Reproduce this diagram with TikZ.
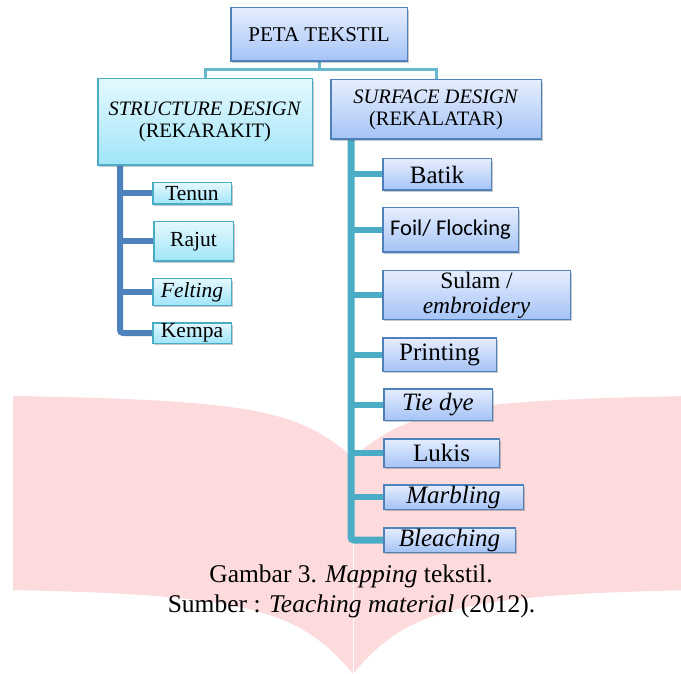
\documentclass[tikz,border=0pt]{standalone}
\usepackage{fontspec}
\setmainfont{LiberationSerif}[Extension=.ttf, UprightFont=*-Regular, ItalicFont=*-Italic, BoldFont=*-Bold, BoldItalicFont=*-BoldItalic]
\newfontfamily\carl{Carlito}
\usetikzlibrary{shadows,backgrounds}
\definecolor{pinkbg}{HTML}{FDDADB}
\definecolor{bborder}{HTML}{4F81BD}
\definecolor{tborder}{HTML}{4BACC6}
\definecolor{btop}{HTML}{E6EEFE}
\definecolor{bbot}{HTML}{A5C3F6}
\definecolor{ctop}{HTML}{E4F8FE}
\definecolor{cbot}{HTML}{A0E5F8}
\tikzset{
  bluebox/.style={draw=bborder, line width=1.5pt, top color=btop, bottom color=bbot,
    inner sep=0pt, align=center,
    drop shadow={shadow xshift=1.5pt, shadow yshift=-1.8pt, opacity=0.3, fill=black!70}},
  cyanbox/.style={bluebox, draw=tborder, top color=ctop, bottom color=cbot},
  topconn/.style={draw=tborder!85, line width=3pt},
  ltree/.style={draw=bborder, line width=6pt},
  rtree/.style={draw=tborder, line width=7pt},
  fa/.style={font=\fontsize{21}{22}\selectfont},
  fb/.style={font=\fontsize{20.5}{22}\selectfont},
  fl/.style={font=\fontsize{21.5}{22}\selectfont},
  fr/.style={font=\fontsize{25}{25}\selectfont},
  fcap/.style={font=\fontsize{25.5}{26}\selectfont}
}
\begin{document}
\begin{tikzpicture}[x=1pt,y=-1pt]
\useasboundingbox (0,0) rectangle (681,674);
% top
\node[bluebox, fa, minimum width=176.5pt, minimum height=53.5pt] (root) at (319,34.5) {PETA TEKSTIL};
\node[cyanbox, fb, minimum width=214.5pt, minimum height=86.5pt] (sd) at (205,122) {\textit{STRUCTURE DESIGN}\\(REKARAKIT)};
\node[bluebox, fb, minimum width=210.5pt, minimum height=59.5pt] (sf) at (436,109.5) {\textit{SURFACE DESIGN}\\(REKALATAR)};
% left children
\node[cyanbox, fl, minimum width=78.5pt, minimum height=21.5pt] (tenun) at (192,193.5) {Tenun};
\node[cyanbox, fl, minimum width=79.5pt, minimum height=39.5pt] (rajut) at (193.5,241.5) {Rajut};
\node[cyanbox, fl, minimum width=78.5pt, minimum height=26.5pt] (felting) at (192,292) {\textit{Felting}};
\node[cyanbox, fl, minimum width=78.5pt, minimum height=20.5pt] (kempa) at (192,333) {Kempa};
% right children
\node[bluebox, fr, minimum width=108.5pt, minimum height=31.5pt] (batik) at (437,174.5) {Batik};
\node[bluebox, font=\carl\fontsize{22.5}{23}\selectfont, minimum width=135.5pt, minimum height=44.5pt] (foil) at (450.5,230) {Foil/ Flocking};
\node[bluebox, font=\fontsize{23.5}{25}\selectfont, minimum width=187.5pt, minimum height=48.5pt] (sulam) at (476.5,295) {Sulam /\\\textit{embroidery}};
\node[bluebox, fr, minimum width=113.5pt, minimum height=33.5pt] (printing) at (439.5,354.5) {Printing};
\node[bluebox, fr, minimum width=108.5pt, minimum height=31.5pt] (tiedye) at (438,404.5) {\textit{Tie dye}};
\node[bluebox, fr, minimum width=115.5pt, minimum height=28.5pt] (lukis) at (441.5,453) {Lukis};
\node[bluebox, fr, minimum width=139.5pt, minimum height=24.5pt] (marbling) at (453.5,497) {\textit{Marbling}};
\node[bluebox, fr, minimum width=131.5pt, minimum height=24.5pt] (bleaching) at (449.5,540) {\textit{Bleaching}};
% caption
\node[fcap, anchor=base, inner sep=0pt] (cap1) at (351,582) {Gambar 3. \textit{Mapping} tekstil.};
\node[fcap, anchor=base, inner sep=0pt] (cap2) at (351.5,612) {Sumber : \textit{Teaching material} (2012).};
\begin{scope}[on background layer]
  \clip (0,0) rectangle (681,674);
  % pink book watermark
  \fill[pinkbg] (13,396) .. controls (250,400) and (300,410) .. (353,458)
     .. controls (406,410) and (456,400) .. (693,396)
     -- (693,590) .. controls (456,595) and (406,610) .. (353,674)
     .. controls (300,610) and (250,595) .. (13,590) -- cycle;
  \draw[white, line width=0.6pt] (353,458) -- (353,674);
  % connectors
  \draw[topconn] (root.south) -- ++(0,8) coordinate (j);
  \draw[topconn] (j) -| (sd.north);
  \draw[topconn] (j) -| (sf.north);
  \coordinate (lt) at ([xshift=23pt]sd.south west);
  \draw[ltree, rounded corners=3pt] (lt) |- (kempa.west);
  \draw[ltree] (lt |- tenun.west) -- (tenun.west);
  \draw[ltree] (lt |- rajut.west) -- (rajut.west);
  \draw[ltree] (lt |- felting.west) -- (felting.west);
  \coordinate (rt) at ([xshift=21pt]sf.south west);
  \draw[rtree, rounded corners=3pt] (rt) |- (bleaching.west);
  \foreach \n in {batik,foil,sulam,printing,tiedye,lukis,marbling}
    \draw[rtree, line width=6pt] (rt |- \n.west) -- (\n.west);
\end{scope}
\end{tikzpicture}
\end{document}
